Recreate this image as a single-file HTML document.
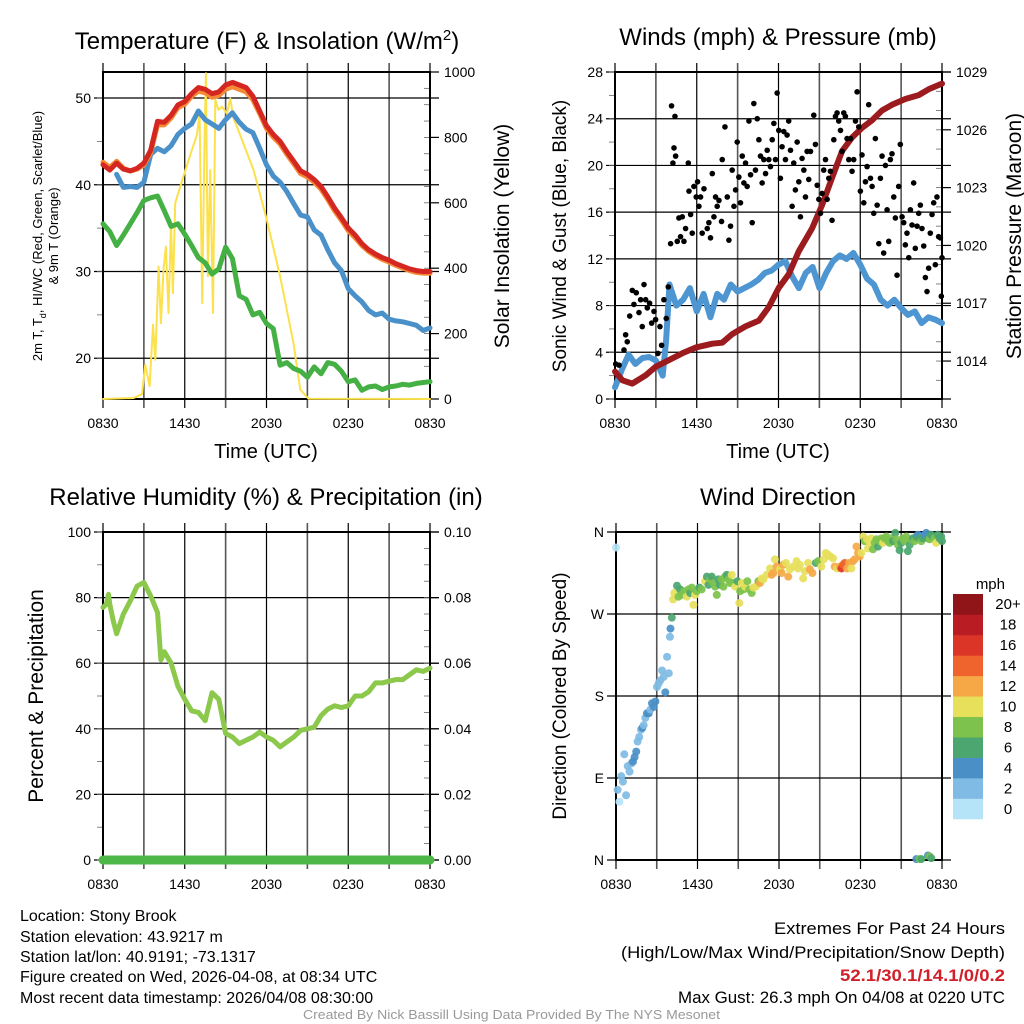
<!DOCTYPE html>
<html><head><meta charset="utf-8"><style>
html,body{margin:0;padding:0;background:#fff}
svg{display:block;font-family:"Liberation Sans",sans-serif}
</style></head><body>
<svg id="fig" width="1024" height="1024" viewBox="0 0 1024 1024" xmlns="http://www.w3.org/2000/svg">
<rect width="1024" height="1024" fill="#fff"/>
<text x="267" y="49" font-size="24" text-anchor="middle">Temperature (F) &amp; Insolation (W/m<tspan dy="-9" font-size="15">2</tspan><tspan dy="9">)</tspan></text>
<text x="778" y="45" font-size="24" text-anchor="middle">Winds (mph) &amp; Pressure (mb)</text>
<text x="266" y="505" font-size="24" text-anchor="middle">Relative Humidity (%) &amp; Precipitation (in)</text>
<text x="778" y="505" font-size="24" text-anchor="middle">Wind Direction</text>
<text x="266" y="458" font-size="20" text-anchor="middle">Time (UTC)</text>
<text x="778" y="458" font-size="20" text-anchor="middle">Time (UTC)</text>
<text transform="translate(42,236) rotate(-90)" font-size="13" text-anchor="middle">2m T, T<tspan dy="4" font-size="9">d</tspan><tspan dy="-4">, HI/WC (Red, Green, Scarlet/Blue)</tspan></text>
<text transform="translate(58,236) rotate(-90)" font-size="13" text-anchor="middle">&amp; 9m T (Orange)</text>
<text transform="translate(509,236) rotate(-90)" font-size="21" text-anchor="middle">Solar Insolation (Yellow)</text>
<text transform="translate(566,236) rotate(-90)" font-size="19" text-anchor="middle">Sonic Wind &amp; Gust (Blue, Black)</text>
<text transform="translate(1021,236) rotate(-90)" font-size="21" text-anchor="middle">Station Pressure (Maroon)</text>
<text transform="translate(43,696) rotate(-90)" font-size="21" text-anchor="middle">Percent &amp; Precipitation</text>
<text transform="translate(566,696) rotate(-90)" font-size="19" text-anchor="middle">Direction (Colored By Speed)</text>
<g font-size="16">
<text x="20" y="921">Location: Stony Brook</text>
<text x="20" y="942">Station elevation: 43.9217 m</text>
<text x="20" y="962">Station lat/lon: 40.9191; -73.1317</text>
<text x="20" y="982">Figure created on Wed, 2026-04-08, at 08:34 UTC</text>
<text x="20" y="1003">Most recent data timestamp: 2026/04/08 08:30:00</text>
</g>
<g font-size="17" text-anchor="end">
<text x="1005" y="934" textLength="231" lengthAdjust="spacingAndGlyphs">Extremes For Past 24 Hours</text>
<text x="1005" y="958" textLength="384" lengthAdjust="spacingAndGlyphs">(High/Low/Max Wind/Precipitation/Snow Depth)</text>
<text x="1005" y="981" textLength="165" lengthAdjust="spacingAndGlyphs" font-weight="bold" fill="#d0202a">52.1/30.1/14.1/0/0.2</text>
<text x="1005" y="1003" textLength="327" lengthAdjust="spacingAndGlyphs">Max Gust: 26.3 mph On 04/08 at 0220 UTC</text>
</g>
<text x="303" y="1019" font-size="13" fill="#999" textLength="417" lengthAdjust="spacingAndGlyphs">Created By Nick Bassill Using Data Provided By The NYS Mesonet</text>
<text x="1005" y="589" font-size="15" text-anchor="end">mph</text>
</svg>
<script>
// ---- data ----
const xTickLabels = ["0830","1430","2030","0230","0830"];
const tempHours = [0,0.5,1,1.5,2,2.5,3,3.5,4,4.5,5,5.5,6,6.5,7,7.5,8,8.5,9,9.5,10,10.5,11,11.5,12,12.5,13,13.5,14,14.5,15,15.5,16,16.5,17,17.5,18,18.5,19,19.5,20,20.5,21,21.5,22,22.5,23,23.5,24];
const redTemp = [42.3,41.7,42.5,41.8,41.6,41.9,42.5,44.0,47.3,47.2,48.0,49.2,49.6,50.5,51.2,51.0,50.5,50.7,51.5,51.8,51.5,51.2,50.2,48.5,46.8,45.8,45.0,43.8,42.7,41.6,41.2,40.6,39.8,38.6,37.3,36.2,35.0,34.2,33.2,32.5,32.0,31.6,31.3,30.9,30.6,30.3,30.1,30.0,30.0];
const orangeTemp = [42.6,42.0,42.7,41.9,41.6,41.8,42.3,43.7,46.9,46.9,47.7,48.9,49.3,50.2,50.8,50.6,50.1,50.3,51.0,51.3,51.0,50.7,49.8,48.2,46.5,45.5,44.7,43.5,42.4,41.3,40.9,40.3,39.5,38.3,37.0,35.9,34.7,33.9,33.0,32.3,31.8,31.4,31.1,30.7,30.4,30.1,29.9,29.8,29.8];
const blueTemp = [null,null,41.2,39.7,39.8,39.7,40.3,43.5,44.2,43.8,44.5,45.8,46.5,47.0,48.5,47.5,47.0,46.5,47.5,48.3,47.2,46.4,46.0,44.2,42.3,41.0,40.3,39.2,37.8,36.5,36.3,34.8,34.2,32.5,31.0,30.1,28.0,27.2,26.5,25.5,25.0,25.2,24.5,24.3,24.2,24.0,23.8,23.2,23.5];
const greenDew = [35.5,34.6,33.0,34.2,35.5,36.8,38.2,38.5,38.7,37.0,35.2,35.5,34.3,33.0,31.6,31.0,29.7,30.3,32.8,31.5,27.2,26.8,25.0,25.3,24.0,23.4,19.2,19.5,18.8,18.5,17.8,19.0,18.2,19.5,19.3,18.5,17.3,17.5,16.3,16.7,16.8,16.4,16.7,16.8,17.0,16.9,17.1,17.2,17.3];
const solarHours = [0,2.25,2.86,3.1,3.42,3.67,3.84,4.08,4.25,4.45,4.62,4.81,4.99,5.13,5.3,5.67,6.28,6.89,7.09,7.28,7.43,7.55,7.7,7.87,8.07,8.24,8.48,8.73,9.09,9.34,9.58,9.83,11.05,12.02,13.0,13.98,14.47,15.08,24];
const solarValues = [0,3,15,105,39,227,120,405,232,400,466,263,538,324,599,650,731,808,869,293,731,996,375,700,263,915,884,894,873,919,858,833,700,548,375,171,29,1,0];
const pressHours = [0,0.54,1.27,2.25,2.98,3.96,4.94,5.91,7.14,7.87,8.6,9.58,10.56,11.29,12.02,12.75,13.49,14.47,15.2,15.93,16.67,17.4,18.13,18.87,19.6,20.33,21.31,22.29,23.02,24];
const pressValues = [1013.45,1013.0,1012.83,1013.26,1013.7,1014.05,1014.4,1014.7,1014.9,1014.95,1015.4,1015.8,1016.1,1016.8,1017.8,1018.5,1019.7,1020.9,1022.1,1023.5,1024.9,1025.6,1026.1,1026.5,1027.0,1027.3,1027.6,1027.8,1028.1,1028.4];
const windHours = [0,0.5,1,1.5,2,2.5,3,3.5,3.75,4,4.5,5,5.5,6,6.5,7,7.5,8,8.5,9,9.5,10,10.5,11,11.5,12,12.5,13,13.5,14,14.5,15,15.5,16,16.5,17,17.5,18,18.5,19,19.5,20,20.5,21,21.5,22,22.5,23,23.5,24];
const windSpeed = [1.0,2.5,3.8,3.0,3.5,3.6,3.3,2.0,5.0,9.8,8.0,8.5,9.5,7.5,9.0,7.0,9.0,8.5,9.8,9.2,9.5,9.8,10.2,10.8,11.0,11.5,11.8,10.5,9.5,10.8,11.3,9.5,10.8,11.8,12.3,12.0,12.5,11.5,10.3,9.8,8.5,8.0,8.5,7.8,7.2,7.5,6.5,7.0,6.8,6.5];
const gustHours = [0.05,0.3,0.66,0.78,0.9,1.08,1.27,1.39,1.56,1.76,1.88,2.0,2.13,2.25,2.37,2.54,2.69,2.86,2.98,3.15,3.3,3.42,3.59,3.76,3.91,4.08,4.15,4.25,4.33,4.4,4.45,4.57,4.69,4.81,4.94,5.06,5.18,5.38,5.43,5.55,5.67,5.79,5.96,6.06,6.16,6.28,6.4,6.53,6.77,6.89,7.01,7.14,7.26,7.38,7.5,7.63,7.82,7.87,8.07,8.24,8.36,8.48,8.6,8.73,8.85,8.97,9.09,9.21,9.34,9.46,9.58,9.7,9.83,9.95,10.07,10.19,10.31,10.44,10.56,10.68,10.8,10.92,11.05,11.17,11.29,11.41,11.54,11.66,11.78,11.9,12.02,12.14,12.26,12.39,12.51,12.63,12.75,12.88,13.0,13.12,13.24,13.37,13.49,13.61,13.73,13.86,13.98,14.1,14.22,14.35,14.59,14.71,14.84,14.96,15.08,15.2,15.32,15.45,15.57,15.69,15.81,15.93,16.06,16.18,16.3,16.42,16.55,16.67,16.79,16.91,17.03,17.16,17.28,17.4,17.52,17.65,17.77,17.89,18.01,18.13,18.26,18.38,18.5,18.62,18.75,18.87,18.99,19.11,19.24,19.36,19.48,19.6,19.72,19.85,19.97,20.09,20.21,20.33,20.46,20.58,20.7,20.82,20.94,21.07,21.19,21.31,21.43,21.56,21.68,21.8,21.92,22.04,22.17,22.29,22.41,22.53,22.66,22.78,22.9,23.02,23.14,23.27,23.39,23.51,23.63,23.75,23.88,24.0,23.95];
const gustValues = [3.0,2.9,4.2,5.5,4.9,7.1,9.3,8.1,9.1,7.4,8.5,6.2,9.8,8.5,7.8,8.2,6.5,7.5,6.8,3.9,6.2,4.6,8.5,6.9,9.6,13.3,25.1,20.2,21.5,24.2,20.8,13.5,15.5,13.9,15.6,13.5,14.6,20.2,17.8,15.8,14.2,18.2,17.3,18.6,16.5,17.3,14.2,18.0,14.6,15.1,13.8,19.3,15.6,17.3,16.5,17.0,15.2,20.5,23.3,17.3,13.6,14.8,19.6,16.5,17.9,22.0,19.0,16.8,20.8,18.5,20.2,18.2,23.8,19.2,15.1,25.3,19.6,24.0,22.2,20.8,18.5,20.5,19.3,21.3,20.5,19.9,22.2,23.6,20.5,26.2,23.0,18.9,21.6,22.9,20.5,22.6,23.8,21.3,16.5,20.2,17.9,22.0,18.6,15.6,20.6,19.6,17.3,21.2,18.8,21.2,24.3,21.8,18.3,17.1,15.9,17.6,19.6,20.5,17.1,18.9,19.5,15.3,22.2,24.2,24.5,23.8,23.0,21.2,24.5,24.2,22.3,20.5,22.3,19.5,20.5,23.8,26.3,23.3,17.8,20.9,16.8,18.6,19.9,25.2,18.9,18.2,15.9,22.3,16.6,13.3,18.9,20.8,12.5,20.0,16.2,13.5,20.5,21.0,17.3,15.5,10.6,18.2,21.8,15.6,15.1,13.2,14.2,12.1,16.2,14.9,18.5,12.9,14.8,15.9,16.6,14.6,13.1,10.4,9.2,11.2,14.2,15.8,16.8,11.5,17.3,13.9,13.8,12.1,8.8];
const rhHours = [0,0.25,0.4,0.5,0.75,1,1.5,2,2.5,3,3.5,4,4.25,4.5,5,5.5,6,6.5,7,7.5,8,8.5,9,9.5,10,10.5,11,11.5,12,12.5,13,13.5,14,14.5,15,15.5,16,16.5,17,17.5,18,18.5,19,19.5,20,20.5,21,21.5,22,22.5,23,23.5,24];
const rhValues = [77,78,81,78,73,69,75,79,83.5,84.6,80.5,75.5,61,63.5,60,53,49,45.5,45,42.5,51,49,38.6,37.5,35.5,36.5,37.5,39,37.5,36.5,34.5,36,37.5,39.5,40,40.5,44,46,47,46.5,47,50,50,51.3,54,54,54.5,55,55,56.5,58,57.5,58.5];
const precipHours = [0,24];
const precipValues = [0,0];
const dirHours = [0,0.12,0.25,0.39,0.51,0.61,0.74,0.86,1.0,1.13,1.25,1.37,1.49,1.59,1.71,1.84,1.94,2.04,2.16,2.28,2.41,2.53,2.65,2.78,2.9,3.02,3.14,3.26,3.39,3.51,3.63,3.76,3.89,3.97,4.01,4.11,4.2,4.29,4.49,4.6,4.72,4.85,5.02,5.21,5.34,5.46,5.58,5.7,5.82,5.95,6.14,6.31,6.56,6.69,6.81,6.93,7.05,7.18,7.3,7.42,7.54,7.66,7.79,7.91,8.03,8.15,8.28,8.4,8.52,8.64,8.77,8.94,9.08,9.14,9.26,9.38,9.5,9.67,9.82,9.99,10.11,10.3,10.48,10.6,10.73,10.85,11.09,11.34,11.46,11.58,11.7,11.82,12.07,12.19,12.31,12.51,12.68,12.8,13.04,13.29,13.41,13.53,13.78,13.9,14.14,14.27,14.46,14.71,14.88,15.12,15.3,15.44,15.62,15.79,15.98,16.1,16.28,16.47,16.6,16.72,16.84,17.01,17.16,17.33,17.45,17.57,17.7,17.82,17.94,18.06,18.19,18.31,18.48,18.55,18.68,18.8,18.92,19.05,19.17,19.29,19.41,19.54,19.66,19.78,19.9,20.02,20.15,20.27,20.39,20.56,20.64,20.76,20.88,21.0,21.13,21.25,21.37,21.49,21.62,21.74,21.86,21.98,22.11,22.23,22.35,22.48,22.6,22.72,22.84,22.97,23.09,23.21,23.33,23.45,23.57,23.7,23.82,23.94,24.0,22.11,22.35,22.48,22.97,23.09,23.21];
const dirDegrees = [343,77,64,92,86,116,71,103,97,106,108,113,119,130,135,143,145,148,156,161,161,165,172,168,174,190,194,197,208,201,184,223,205,245,254,266,286,293,301,289,297,291,295,289,297,293,299,280,291,295,299,297,306,311,302,308,311,304,300,291,308,302,308,300,311,313,308,304,313,304,300,306,282,295,304,297,300,306,297,293,299,300,306,304,309,308,313,320,313,315,330,322,319,315,324,326,311,319,322,328,320,324,309,317,326,319,315,326,328,322,330,337,335,333,331,322,320,322,320,324,326,320,326,320,328,330,344,337,333,337,355,350,352,342,348,353,341,348,352,344,350,353,348,353,355,350,348,353,350,359,352,346,340,348,353,350,355,339,346,352,353,350,355,357,353,350,353,357,359,353,352,357,355,353,348,357,353,355,350,1,1,1,5,4,2];
const dirSpeeds = [1,3,1,2,3,3,3,3,2,3,4,4,4,2,2,2,5,3,2,4,5,2,4,4,4,2,2,2,2,3,5,3,2,2,5,7,10,10,6,8,7,8,9,10,8,7,8,10,10,8,7,9,10,7,6,8,7,8,9,8,7,6,8,9,8,7,8,9,10,9,10,7,10,8,10,9,10,8,9,8,10,10,9,13,10,11,10,11,12,13,10,12,11,13,12,11,12,10,11,10,11,10,10,11,10,12,12,7,9,10,11,10,10,10,10,12,11,12,16,15,14,12,12,10,13,12,12,13,12,10,10,9,10,10,11,10,9,9,8,7,8,9,11,9,8,8,9,8,7,7,8,8,6,7,8,8,8,6,7,8,7,8,7,5,7,8,7,5,4,6,8,7,6,8,10,7,6,7,6,4,8,6,4,8,6];
const speedBinLabels = ["0","2","4","6","8","10","12","14","16","18","20+"];
const speedBinColors = ["#b5e3f7","#7fbbe4","#4a8fc6","#4ba66f","#7dc24c","#e6e05b","#f6a847","#ef632c","#db3527","#ba1c24","#8f1519"];

// ---- helpers ----
const NS = "http://www.w3.org/2000/svg";
const svg = document.getElementById("fig");
function mk(tag, attrs, parent){const e=document.createElementNS(NS,tag);for(const k in attrs)e.setAttribute(k,attrs[k]);(parent||svg).appendChild(e);return e;}
function scale(d0,d1,r0,r1){return v=>r0+(v-d0)/(d1-d0)*(r1-r0);}

function panel(p){
  const g = mk("g",{});
  
  
  const xs = scale(0,24,p.x0,p.x1);
  for(let h=0;h<=24;h+=3){
    const ln = mk("line",{x1:xs(h),x2:xs(h),y1:p.y0-9,y2:p.y1+9,stroke:h%6===0?"#000":"#555","stroke-width":h%6===0?1.2:1.6},g);
    
    
  }
  xTickLabels.forEach((lab,i)=>{
    const t = mk("text",{x:xs(i*6),y:p.y1+29,"font-size":14,"text-anchor":"middle"},g);
    t.textContent = lab;
    
    
  });
  const ys = scale(p.lo,p.hi,p.y1,p.y0);
  p.leftTicks.forEach(v=>{
    const ln = mk("line",{x1:p.x0-9,x2:p.x1+9,y1:ys(v),y2:ys(v),stroke:"#000","stroke-width":1.2},g);
    
    
    const t = mk("text",{x:p.x0-12,y:ys(v)+5,"font-size":14,"text-anchor":"end"},g);
    t.textContent = p.leftFmt ? p.leftFmt(v) : v;
    
    
  });
  if(p.leftMinor){
    for(let v=Math.ceil(p.lo/p.leftMinor)*p.leftMinor; v<=p.hi+1e-9; v+=p.leftMinor){
      const m = mk("line",{x1:p.x0-6,x2:p.x0,y1:ys(v),y2:ys(v),stroke:"#666","stroke-width":0.8},g);
      
      
    }
  }
  if(p.right){
    const rs = scale(p.right.lo,p.right.hi,p.y1,p.y0);
    p.right.ticks.forEach(v=>{
      const ln = mk("line",{x1:p.x1,x2:p.x1+9,y1:rs(v),y2:rs(v),stroke:"#000","stroke-width":1.2},g);
      
      
      const t = mk("text",{x:p.x1+14,y:rs(v)+5,"font-size":14,"text-anchor":"start"},g);
      t.textContent = p.right.fmt ? p.right.fmt(v) : v;
      
      
    });
    for(let v=Math.ceil(p.right.lo/p.right.minor-1e-9)*p.right.minor; v<=p.right.hi+1e-9; v+=p.right.minor){
      const m = mk("line",{x1:p.x1-6,x2:p.x1,y1:rs(v),y2:rs(v),stroke:"#666","stroke-width":0.8},g);
      
      
    }
  }
  const fr = mk("rect",{x:p.x0,y:p.y0,width:p.x1-p.x0,height:p.y1-p.y0,fill:"none",stroke:"#000","stroke-width":2},g);
  
  
  return {g,xs,ys,rs:p.right?scale(p.right.lo,p.right.hi,p.y1,p.y0):null};
}
function line(g,hours,vals,xs,ys,color,w,name){
  let d="",pen=false;
  hours.forEach((h,i)=>{const v=vals[i];if(v===null){pen=false;return;}d+=(pen?"L":"M")+xs(h).toFixed(1)+","+ys(v).toFixed(1);pen=true;});
  const p = mk("path",{d,fill:"none",stroke:color,"stroke-width":w,"stroke-linejoin":"round","stroke-linecap":"round"},g);
  
  
  return p;
}

// Panel 1
const P1 = panel({name:"temperature",x0:103,x1:430,y0:72,y1:399,lo:15.3,hi:53.0,leftTicks:[20,30,40,50],leftMinor:5,
  right:{lo:0,hi:1000,ticks:[0,200,400,600,800,1000],minor:50}});
line(P1.g,solarHours,solarValues,P1.xs,P1.rs,"#fbe14c",2,"solar-insolation-line");
line(P1.g,tempHours,greenDew,P1.xs,P1.ys,"#45b043",5,"dewpoint-line");
line(P1.g,tempHours,blueTemp,P1.xs,P1.ys,"#4a90c9",5,"heat-index-wind-chill-line");
line(P1.g,tempHours,orangeTemp,P1.xs,P1.ys,"#f58a36",5,"temperature-9m-line");
line(P1.g,tempHours,redTemp,P1.xs,P1.ys,"#d42722",5,"temperature-2m-line");

// Panel 2
const P2 = panel({name:"wind",x0:615,x1:942,y0:72,y1:399,lo:0,hi:28,leftTicks:[0,4,8,12,16,20,24,28],leftMinor:2,
  right:{lo:1012.03,hi:1029,ticks:[1014,1017,1020,1023,1026,1029],minor:1}});
line(P2.g,windHours,windSpeed,P2.xs,P2.ys,"#4e96d2",6,"sonic-wind-line");
line(P2.g,pressHours,pressValues,P2.xs,P2.rs,"#9b1b1e",6,"pressure-line");
gustHours.forEach((h,i)=>{
  const c = mk("circle",{cx:P2.xs(h),cy:P2.ys(gustValues[i]),r:2.8,fill:"#000"},P2.g);
  
  
});

// Panel 3
const P3 = panel({name:"humidity",x0:103,x1:430,y0:532,y1:860,lo:0,hi:100,leftTicks:[0,20,40,60,80,100],leftMinor:10,
  right:{lo:0,hi:0.1,ticks:[0,0.02,0.04,0.06,0.08,0.1],minor:0.005,fmt:v=>v.toFixed(2)}});
line(P3.g,rhHours,rhValues,P3.xs,P3.ys,"#8cc84b",5,"relative-humidity-line");
line(P3.g,precipHours,precipValues,P3.xs,P3.rs,"#4db848",9,"precipitation-line");

// Panel 4
const dirLabels = ["N","E","S","W","N"];
const P4 = panel({name:"direction",x0:616,x1:942,y0:532,y1:860,lo:0,hi:360,leftTicks:[0,90,180,270,360],leftFmt:v=>dirLabels[v/90]});
dirHours.forEach((h,i)=>{
  const bin = Math.min(10,Math.floor(dirSpeeds[i]/2));
  const c = mk("circle",{cx:P4.xs(h),cy:P4.ys(dirDegrees[i]),r:4,fill:speedBinColors[bin],"fill-opacity":0.92},P4.g);
  
  
});
const cb = mk("g",{});


const cbTop=594, cbBot=819, cbH=(cbBot-cbTop)/speedBinLabels.length;
speedBinLabels.forEach((lab,i)=>{
  const y = cbBot-(i+1)*cbH;
  const r = mk("rect",{x:953,y:y,width:30,height:cbH+0.3,fill:speedBinColors[i]},cb);
  
  
  const t = mk("text",{x:1008,y:y+cbH/2+5,"font-size":15,"text-anchor":"middle"},cb);
  t.textContent = lab;
  
  
});
</script>
</body></html>
